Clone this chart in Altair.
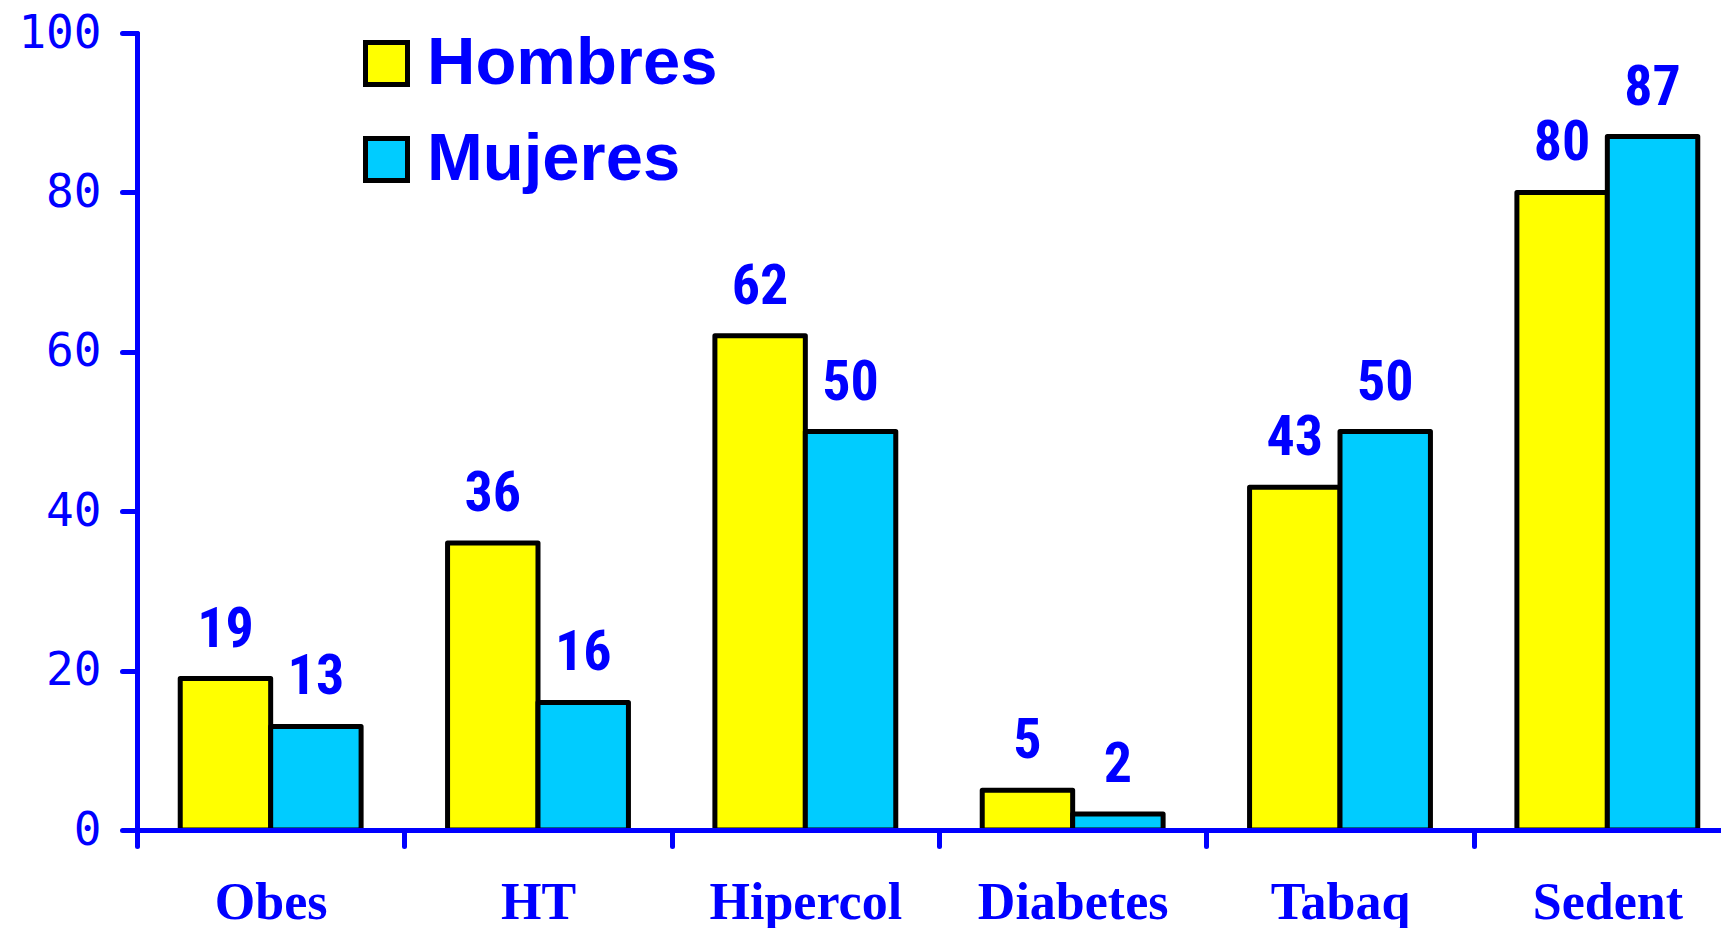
import altair as alt
import pandas as pd

categories = ["Obes", "HT", "Hipercol", "Diabetes", "Tabaq", "Sedent"]
series = ["Hombres", "Mujeres"]
hombres = [19, 36, 62, 5, 43, 80]
mujeres = [13, 16, 50, 2, 50, 87]
y_ticks = [0, 20, 40, 60, 80, 100]

rows = []
for i, c in enumerate(categories):
    rows.append({"cat": c, "sexo": series[0], "valor": hombres[i]})
    rows.append({"cat": c, "sexo": series[1], "valor": mujeres[i]})
df = pd.DataFrame(rows)

BLUE = "#0000FF"
YELLOW = "#FFFF00"
CYAN = "#00CCFF"

x_enc = alt.X(
    "cat:N",
    sort=categories,
    title=None,
    scale=alt.Scale(paddingInner=0, paddingOuter=0, range=[0, 1604]),
    axis=alt.Axis(
        labelAngle=0,
        tickBand="extent",
        domainColor=BLUE,
        domainWidth=5,
        tickColor=BLUE,
        tickWidth=5,
        tickSize=16,
        tickCap="round",
        labelFont="Liberation Serif",
        labelFontWeight="bold",
        labelFontSize=52,
        labelColor=BLUE,
        labelPadding=72,
        labelBaseline="alphabetic",
        labelLimit=0,
        zindex=1,
    ),
)
xoff_enc = alt.XOffset(
    "sexo:N", sort=series, scale=alt.Scale(paddingInner=0, paddingOuter=0.478)
)
y_enc = alt.Y(
    "valor:Q",
    scale=alt.Scale(domain=[0, 100], nice=False),
    axis=alt.Axis(
        values=y_ticks,
        grid=False,
        title=None,
        domainColor=BLUE,
        domainWidth=5,
        domainCap="round",
        tickColor=BLUE,
        tickWidth=5,
        tickSize=15,
        tickCap="round",
        labelFont="DejaVu Sans Mono",
        labelFontSize=46,
        labelColor=BLUE,
        labelPadding=21,
        zindex=1,
    ),
)

base = alt.Chart(df)

bars = base.mark_bar(stroke="black", strokeWidth=5, strokeJoin="round").encode(
    x=x_enc,
    xOffset=xoff_enc,
    y=y_enc,
    color=alt.Color(
        "sexo:N",
        sort=series,
        scale=alt.Scale(domain=series, range=[YELLOW, CYAN]),
        legend=alt.Legend(
            title=None,
            orient="none",
            legendX=216,
            legendY=-3,
            padding=0,
            symbolType="square",
            symbolSize=1764,
            symbolStrokeColor="black",
            symbolStrokeWidth=5,
            symbolOpacity=1,
            labelFont="Liberation Sans",
            labelFontWeight="bold",
            labelFontSize=67,
            labelColor=BLUE,
            labelOffset=7,
            rowPadding=28,
            labelLimit=0,
        ),
    ),
)

labels = base.mark_text(
    font="Roboto Condensed, Liberation Sans Narrow, Arial Narrow, Liberation Sans, sans-serif",
    fontWeight="bold",
    fontSize=56,
    color=BLUE,
    baseline="alphabetic",
    dy=-32,
).encode(x=x_enc, xOffset=xoff_enc, y=y_enc, text=alt.Text("valor:Q"))

chart = (
    alt.layer(bars, labels)
    .properties(
        width=1584,
        height=797,
        autosize=alt.AutoSizeParams(type="none"),
        padding={"left": 129, "top": 25, "right": 0, "bottom": 98},
        background="white",
    )
    .configure_view(stroke=None)
)

chart.save("out.html", embed_options={"renderer": "svg", "actions": False})
